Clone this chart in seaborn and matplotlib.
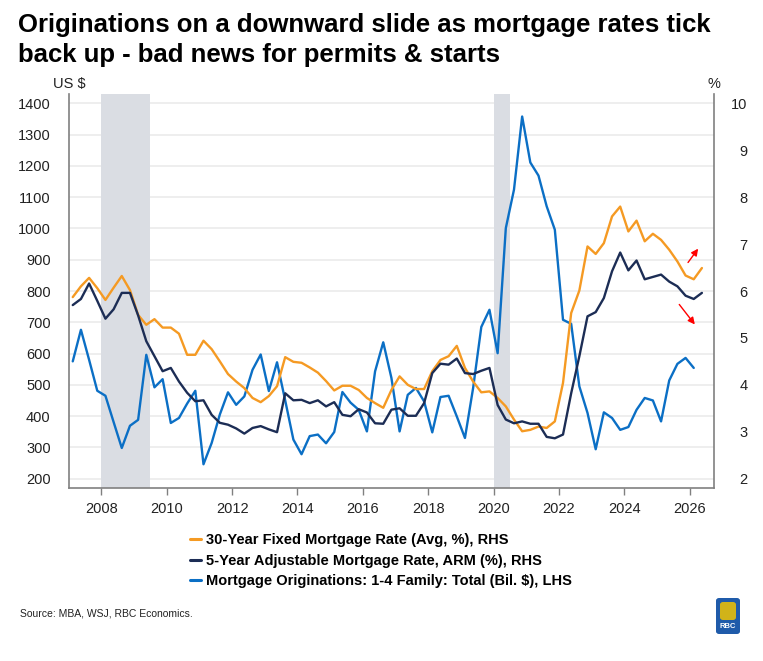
import matplotlib
matplotlib.use("Agg")
import matplotlib.pyplot as plt
from matplotlib import font_manager
from matplotlib.lines import Line2D
from matplotlib.patches import FancyBboxPatch
import seaborn as sns
import pandas as pd
import numpy as np

# ---------------- data (quarterly, starting 2007Q1) ----------------
start_quarter = "2007Q1"

fixed_30y = [5.87, 6.10, 6.28, 6.06, 5.81, 6.07, 6.32, 6.02, 5.49, 5.28,
             5.40, 5.22, 5.22, 5.09, 4.64, 4.64, 4.94, 4.76, 4.50, 4.23,
             4.07, 3.93, 3.72, 3.63, 3.76, 3.97, 4.59, 4.49, 4.47, 4.37,
             4.26, 4.08, 3.88, 3.98, 3.98, 3.89, 3.72, 3.61, 3.51, 3.89,
             4.18, 4.00, 3.91, 3.91, 4.29, 4.53, 4.61, 4.83, 4.36, 4.07,
             3.84, 3.86, 3.72, 3.54, 3.26, 3.01, 3.04, 3.11, 3.08, 3.22,
             4.04, 5.53, 6.01, 6.95, 6.79, 7.02, 7.59, 7.80, 7.27, 7.50,
             7.06, 7.22, 7.09, 6.88, 6.63, 6.33, 6.25, 6.49]

arm_5y = [5.70, 5.83, 6.16, 5.79, 5.41, 5.61, 5.96, 5.96, 5.48, 4.93,
          4.61, 4.29, 4.36, 4.07, 3.83, 3.65, 3.67, 3.36, 3.19, 3.15,
          3.07, 2.96, 3.08, 3.12, 3.05, 2.99, 3.82, 3.67, 3.68, 3.61,
          3.67, 3.54, 3.63, 3.36, 3.33, 3.48, 3.41, 3.18, 3.17, 3.47,
          3.50, 3.34, 3.34, 3.61, 4.25, 4.45, 4.43, 4.56, 4.25, 4.23,
          4.30, 4.36, 3.57, 3.26, 3.18, 3.22, 3.17, 3.17, 2.89, 2.86,
          2.94, 3.82, 4.61, 5.46, 5.55, 5.85, 6.42, 6.82, 6.44, 6.65,
          6.25, 6.30, 6.35, 6.20, 6.10, 5.90, 5.83, 5.96]

originations = [575, 676, 580, 481, 465, 381, 298, 369, 388, 596,
                492, 518, 378, 394, 440, 481, 246, 314, 405, 476,
                436, 463, 548, 597, 480, 572, 450, 325, 278, 336,
                341, 313, 349, 477, 443, 420, 351, 543, 636, 522,
                351, 468, 490, 447, 348, 461, 465, 399, 330, 490,
                685, 740, 601, 1001, 1124, 1358, 1211, 1169, 1071, 996,
                708, 695, 495, 410, 294, 412, 394, 356, 365, 420,
                458, 450, 383, 514, 567, 586, 554]

recessions = [(2008.0, 2009.5), (2020.0, 2020.5)]
x_ticks = list(range(2008, 2027, 2))
left_ticks = list(range(200, 1401, 100))
right_ticks = list(range(2, 11))

labels = ["30-Year Fixed Mortgage Rate (Avg, %), RHS",
          "5-Year Adjustable Mortgage Rate, ARM (%), RHS",
          "Mortgage Originations: 1-4 Family: Total (Bil. $), LHS"]
title_lines = ["Originations on a downward slide as mortgage rates tick",
               "back up - bad news for permits & starts"]
source_text = "Source: MBA, WSJ, RBC Economics."

c_orange = "#F59A23"
c_navy = "#1C2D55"
c_blue = "#0B6FC5"
c_grey = "#808080"
c_text = "#222222"


def quarter_times(n):
    p = pd.period_range(start_quarter, periods=n, freq="Q")
    return np.asarray(p.year + (p.quarter - 1) * 0.25 + 0.125, dtype=float)


df_rates = pd.DataFrame({"t": quarter_times(len(fixed_30y)),
                         "fixed": fixed_30y, "arm": arm_5y})
df_orig = pd.DataFrame({"t": quarter_times(len(originations)),
                        "orig": originations})

# ---------------- style ----------------
sns.set_theme(style="white")
names = {f.name for f in font_manager.fontManager.ttflist}
base = "Liberation Sans" if "Liberation Sans" in names else "DejaVu Sans"
narrow = "Liberation Sans Narrow" if "Liberation Sans Narrow" in names else base
plt.rcParams["font.family"] = [base, "DejaVu Sans"]

fig = plt.figure(figsize=(7.63, 6.61), dpi=100)
ax = fig.add_axes([0.090, 0.2617, 0.846, 0.5961])
ax2 = ax.twinx()

for a, b in recessions:
    ax.axvspan(a, b, color="#DADDE3", lw=0, zorder=1)

ax.set_axisbelow(True)
ax.yaxis.grid(True, color="#EDEDED", lw=1.3)
ax.xaxis.grid(False)

sns.lineplot(data=df_orig, x="t", y="orig", ax=ax, color=c_blue, lw=1.7,
             legend=False, zorder=3)
sns.lineplot(data=df_rates, x="t", y="fixed", ax=ax2, color=c_orange, lw=1.7,
             legend=False)
sns.lineplot(data=df_rates, x="t", y="arm", ax=ax2, color=c_navy, lw=1.7,
             legend=False)

ax.set_xlim(2007.0, 2026.75)
ax.set_ylim(170, 1430)
ax2.set_ylim(1.8, 10.2)
ax.set_xlabel("")
ax.set_ylabel("")
ax2.set_ylabel("")

ax.set_xticks(x_ticks)
ax.set_yticks(left_ticks)
ax2.set_yticks(right_ticks)
ax.tick_params(axis="x", direction="out", length=5, width=1, color=c_grey,
               labelsize=10.5, labelcolor=c_text, pad=5, bottom=True)
ax.tick_params(axis="y", length=0, labelsize=10.5, labelcolor=c_text, pad=13)
ax2.tick_params(axis="y", length=0, labelsize=10.5, labelcolor=c_text, pad=24)
for lab in ax2.get_yticklabels():
    lab.set_horizontalalignment("right")

for s in ["top"]:
    ax.spines[s].set_visible(False)
    ax2.spines[s].set_visible(False)
ax.spines["right"].set_visible(False)
ax2.spines["left"].set_visible(False)
ax2.spines["bottom"].set_visible(False)
for sp in (ax.spines["left"], ax.spines["bottom"], ax2.spines["right"]):
    sp.set_color(c_grey)
    sp.set_linewidth(1.2)

# red arrows
arrow_kw = dict(arrowstyle="-|>", color="#FF0000", lw=1.0, mutation_scale=10)
ax2.annotate("", xy=(2026.31, 6.95), xytext=(2025.90, 6.56), arrowprops=arrow_kw)
ax2.annotate("", xy=(2026.21, 5.24), xytext=(2025.63, 5.76), arrowprops=arrow_kw)

# axis unit labels
fig.text(53 / 763, 1 - 84 / 661, "US $", fontsize=10.5, color=c_text,
         ha="left", va="center")
fig.text(714 / 763, 1 - 84 / 661, "%", fontsize=10.5, color=c_text,
         ha="center", va="center")

# title
fig.text(18 / 763, 1 - 32 / 661, title_lines[0], fontsize=18.5, weight="bold",
         color="black", ha="left", va="baseline")
fig.text(18 / 763, 1 - 62 / 661, title_lines[1], fontsize=18.5, weight="bold",
         color="black", ha="left", va="baseline")

# legend
handles = [Line2D([], [], color=c_orange, lw=2.2),
           Line2D([], [], color=c_navy, lw=2.2),
           Line2D([], [], color=c_blue, lw=2.2)]
fig.legend(handles, labels, loc="upper left",
           bbox_to_anchor=(177 / 763, 1 - 520 / 661), frameon=False,
           handlelength=0.75, handletextpad=0.35, labelspacing=0.45,
           prop={"family": [narrow, base], "weight": "bold", "size": 10.5},
           labelcolor="black")

# source
fig.text(20 / 763, 1 - 614 / 661, source_text, fontsize=7.5,
         family=[narrow, base], color=c_text, ha="left", va="center")

# RBC logo (simple)
logo = FancyBboxPatch((716 / 763, 1 - 634 / 661), 24 / 763, 36 / 661,
                      boxstyle="round,pad=0.0,rounding_size=0.004",
                      transform=fig.transFigure, facecolor="#1F5BAA",
                      edgecolor="none")
fig.patches.append(logo)
shield = FancyBboxPatch((720 / 763, 1 - 620 / 661), 16 / 763, 18 / 661,
                        boxstyle="round,pad=0.0,rounding_size=0.004",
                        transform=fig.transFigure, facecolor="#F2C300",
                        edgecolor="none", alpha=0.85)
fig.patches.append(shield)
fig.text(728 / 763, 1 - 627 / 661, "RBC", fontsize=5.5, weight="bold",
         color="white", ha="center", va="center")

fig.savefig("out.png", dpi=100)
